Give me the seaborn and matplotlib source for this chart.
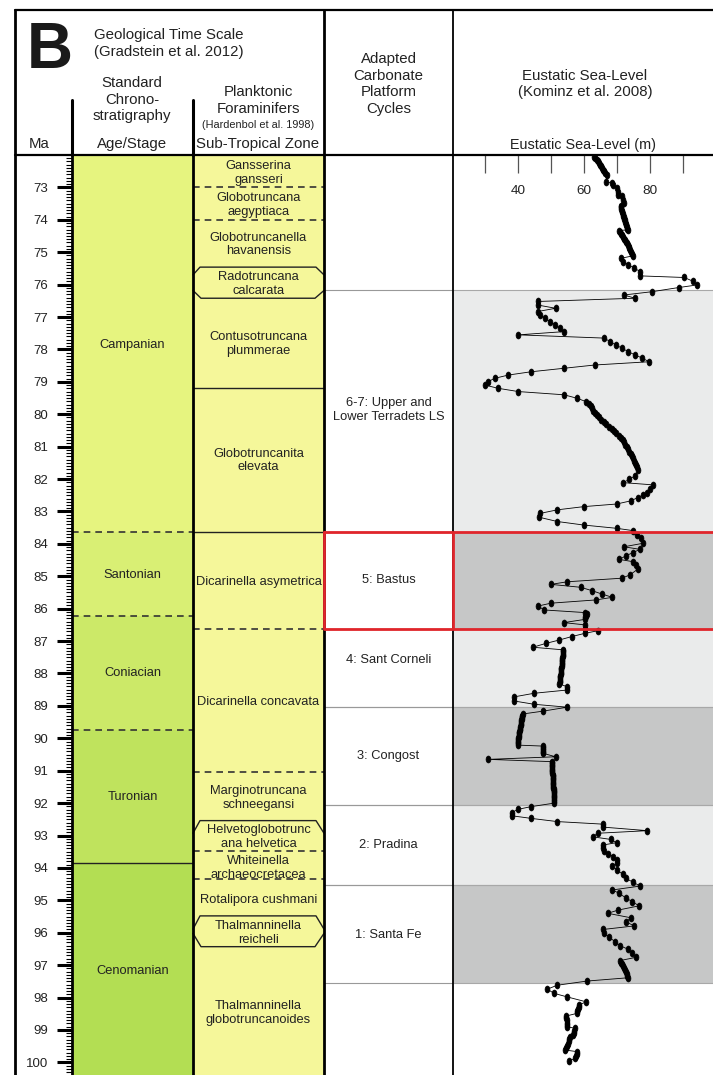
import numpy as np
import pandas as pd
import seaborn as sns
import matplotlib.pyplot as plt

# ---------------- data ----------------
ma_top, ma_base = 72.0, 100.39

stages = ["Campanian", "Santonian", "Coniacian", "Turonian", "Cenomanian"]
stage_base = [83.64, 86.22, 89.73, 93.86, 100.39]
stage_label_ma = [77.86, 84.96, 88.0, 91.8, 97.18]

zones = ["Gansserina\ngansseri", "Globotruncana\naegyptiaca", "Globotruncanella\nhavanensis",
         "Radotruncana\ncalcarata", "Contusotruncana\nplummerae", "Globotruncanita\nelevata",
         "Dicarinella asymetrica", "Dicarinella concavata", "Marginotruncana\nschneegansi",
         "Helvetoglobotrunc\nana helvetica", "Whiteinella\narchaeocretacea", "Rotalipora cushmani",
         "Thalmanninella\nreicheli", "Thalmanninella\nglobotruncanoides"]
zone_label_ma = [72.55, 73.54, 74.76, 75.98, 77.84, 81.43, 85.17, 88.87, 91.83,
                 93.04, 94.0, 94.99, 96.0, 98.47]
zone_dashed = [72.98, 74.0, 86.64, 91.05, 93.47, 94.35]
zone_solid = [79.18, 83.63]
zone_notch_top = [(75.70, 75.46), (92.93, 92.54), (95.89, 95.48)]    # (outer, inner)
zone_notch_base = [(76.18, 76.42), (96.02, 96.43)]

cycles = ["6-7: Upper and\nLower Terradets LS", "5: Bastus", "4: Sant Corneli",
          "3: Congost", "2: Pradina", "1: Santa Fe"]
cycle_top = [76.16, 83.62, 86.62, 89.02, 92.06, 94.52]
cycle_base = [83.62, 86.62, 89.02, 92.06, 94.52, 97.56]
cycle_label_ma = [79.87, 85.11, 87.58, 90.55, 93.3, 96.07]

age_ma = [72.05, 72.10, 72.15, 72.20, 72.25, 72.30, 72.35, 72.40, 72.45, 72.50, 72.55, 72.61,
          72.82, 72.87, 72.92, 73.02, 73.13, 73.23, 73.28, 73.39, 73.49, 73.57,
          73.62, 73.67, 73.72, 73.77, 73.82, 73.87, 73.92, 73.97, 74.02, 74.07, 74.12, 74.17,
          74.22, 74.27, 74.31,
          74.33, 74.38, 74.43, 74.48, 74.53, 74.58, 74.63, 74.68, 74.73, 74.78, 74.83, 74.88,
          74.93, 74.98, 75.04, 75.11,
          75.19, 75.29, 75.39, 75.49, 75.60, 75.73, 75.78, 75.89, 76.01, 76.09, 76.22, 76.32,
          76.42, 76.52, 76.63, 76.73, 76.83, 76.94, 77.04, 77.14, 77.24, 77.35, 77.45, 77.55,
          77.65, 77.76, 77.86, 77.96, 78.07, 78.17, 78.27, 78.38, 78.48, 78.58, 78.69, 78.79,
          78.89, 78.99, 79.10, 79.20, 79.30, 79.40, 79.51,
          79.61, 79.68, 79.75, 79.82, 79.89, 79.96, 80.03, 80.10, 80.17, 80.24, 80.31, 80.38,
          80.45, 80.52, 80.59, 80.66, 80.73, 80.80, 80.87, 80.94, 81.01, 81.08, 81.15, 81.22,
          81.29, 81.36, 81.43, 81.50, 81.57, 81.64, 81.72,
          81.90, 82.01, 82.11, 82.18, 82.31, 82.42, 82.49, 82.57, 82.67, 82.77, 82.85, 82.95,
          83.06, 83.18, 83.31, 83.42, 83.52, 83.59, 83.73, 83.83, 83.98, 84.09, 84.17, 84.27,
          84.37, 84.48, 84.55, 84.65, 84.78, 84.96, 85.06, 85.17, 85.25, 85.34, 85.44, 85.55,
          85.65, 85.73, 85.83, 85.92, 86.04,
          86.12, 86.17, 86.22, 86.27, 86.33,
          86.43, 86.50, 86.64, 86.68, 86.76, 86.86, 86.97, 87.07, 87.19,
          87.27, 87.32, 87.37, 87.42, 87.47, 87.52, 87.57, 87.62, 87.67, 87.72, 87.77, 87.82,
          87.87, 87.92, 87.97, 88.02, 88.07, 88.12, 88.17, 88.22, 88.27, 88.32,
          88.41, 88.51, 88.61, 88.72, 88.85, 88.95, 89.04, 89.16,
          89.25, 89.30, 89.35, 89.40, 89.45, 89.50, 89.55, 89.60, 89.65, 89.70, 89.75, 89.80,
          89.85, 89.90, 89.95, 90.00, 90.05, 90.10, 90.15, 90.21,
          90.24, 90.30, 90.36, 90.42, 90.46, 90.57, 90.65, 90.72,
          90.77, 90.82, 90.87, 90.92, 90.97, 91.02, 91.07, 91.12, 91.17, 91.22, 91.27, 91.32,
          91.37, 91.42, 91.47, 91.52, 91.57, 91.62, 91.67, 91.72, 91.77, 91.82, 91.87, 91.92,
          92.00,
          92.11, 92.19, 92.29, 92.39, 92.47, 92.57, 92.65, 92.74, 92.85, 92.93, 93.04, 93.12,
          93.22, 93.29, 93.40, 93.48, 93.57, 93.65, 93.75, 93.86, 93.94, 94.06, 94.19, 94.32,
          94.44, 94.56, 94.68, 94.78, 94.92, 95.04, 95.17, 95.30, 95.40, 95.54, 95.66, 95.79,
          95.90, 96.02, 96.14, 96.28, 96.40, 96.51, 96.63, 96.76,
          96.86, 96.92, 96.98, 97.04, 97.10, 97.16, 97.22, 97.28, 97.34, 97.39,
          97.49, 97.62, 97.74, 97.87, 97.98, 98.13,
          98.23, 98.29, 98.36, 98.43, 98.49,
          98.57, 98.63, 98.70, 98.77, 98.84, 98.90,
          98.95, 99.02, 99.09, 99.16,
          99.21, 99.28, 99.35, 99.42, 99.49, 99.56, 99.62,
          99.67, 99.74, 99.81, 99.88, 99.95]

sea_level_m = [62.9, 63.3, 63.7, 64.0, 64.3, 64.7, 65.0, 65.4, 65.7, 66.0, 66.4, 66.8,
               66.6, 68.3, 68.8, 69.8, 70.1, 70.3, 71.3, 71.8, 72.0, 71.0,
               71.0, 71.2, 71.3, 71.5, 71.6, 71.8, 71.9, 72.0, 72.2, 72.4, 72.5, 72.7,
               72.8, 73.0, 73.2,
               70.6, 70.9, 71.2, 71.5, 71.8, 72.0, 72.3, 72.6, 72.9, 73.1, 73.4, 73.6,
               73.9, 74.2, 74.5, 74.8,
               71.0, 71.8, 73.3, 75.2, 76.9, 76.9, 90.3, 92.8, 94.2, 88.6, 80.4, 72.0,
               75.4, 45.9, 45.9, 51.3, 45.9, 46.6, 48.1, 49.6, 51.1, 52.6, 53.9, 40.0,
               66.0, 67.8, 69.5, 71.4, 73.3, 75.4, 77.6, 79.6, 63.2, 53.9, 43.8, 37.0,
               32.9, 30.9, 29.9, 33.9, 40.0, 53.9, 57.9,
               60.5, 61.3, 61.9, 62.3, 62.7, 63.2, 63.8, 64.5, 65.2, 65.9, 66.7, 67.5,
               68.3, 69.0, 69.7, 70.4, 71.1, 71.6, 72.0, 72.4, 72.8, 73.2, 73.6, 74.0,
               74.4, 74.8, 75.1, 75.4, 75.8, 76.1, 76.4,
               75.4, 73.6, 71.8, 80.9, 79.9, 79.1, 77.9, 76.2, 74.2, 69.8, 59.9, 51.8,
               46.6, 46.4, 51.8, 59.9, 69.8, 74.7, 75.9, 77.1, 77.9, 72.0, 76.9, 74.7,
               72.6, 70.6, 74.8, 75.7, 76.2, 73.8, 71.3, 54.8, 49.9, 58.9, 62.2, 65.4,
               68.5, 63.5, 49.9, 45.9, 47.9,
               60.2, 60.7, 60.5, 60.3, 60.2,
               53.8, 60.2, 60.2, 64.1, 60.2, 56.2, 52.3, 48.4, 44.4,
               53.6, 53.5, 53.5, 53.4, 53.4, 53.3, 53.3, 53.2, 53.2, 53.1, 53.1, 53.0,
               52.9, 52.9, 52.8, 52.8, 52.7, 52.7, 52.6, 52.5, 52.5, 52.4,
               54.8, 54.8, 44.8, 38.8, 38.8, 44.8, 54.8, 47.6,
               41.3, 41.2, 41.1, 41.0, 40.9, 40.9, 40.8, 40.7, 40.6, 40.5, 40.4, 40.3,
               40.3, 40.2, 40.1, 40.0, 40.0, 39.9, 39.9, 39.8,
               47.4, 47.4, 47.4, 47.4, 47.4, 51.3, 30.9, 50.1,
               50.1, 50.2, 50.2, 50.2, 50.3, 50.3, 50.3, 50.4, 50.4, 50.4, 50.5, 50.5,
               50.5, 50.6, 50.6, 50.6, 50.7, 50.7, 50.7, 50.8, 50.8, 50.8, 50.9, 50.9,
               50.9,
               43.8, 40.0, 38.0, 38.0, 43.8, 51.8, 65.8, 65.6, 79.1, 64.1, 62.5, 68.0,
               69.8, 65.8, 65.6, 65.9, 67.3, 68.8, 70.0, 70.0, 68.5, 69.8, 71.6, 72.5,
               74.8, 76.9, 68.5, 70.5, 72.5, 74.5, 76.6, 70.3, 67.1, 74.2, 72.6, 75.1,
               65.6, 66.0, 67.6, 69.3, 70.8, 73.3, 74.5, 75.6,
               70.8, 71.0, 71.3, 71.6, 71.9, 72.2, 72.5, 72.8, 73.0, 73.2,
               60.9, 51.8, 48.8, 50.8, 54.8, 60.5,
               58.5, 58.3, 58.1, 57.9, 57.7,
               54.5, 54.5, 54.6, 54.7, 54.7, 54.8,
               57.2, 57.0, 56.9, 56.7,
               55.7, 55.5, 55.3, 55.0, 54.7, 54.4, 54.2,
               57.9, 57.7, 57.4, 57.2, 55.5]

sea_ticks = [30, 40, 50, 60, 70, 80, 90]
sea_tick_labels = ["", "40", "", "60", "", "80", ""]

# ---------------- styles ----------------
stage_colors = ["#e6f47f", "#d9ef74", "#cce968", "#bfe35d", "#b3de53"]
zone_color = "#f5f79a"
band_colors = ["#eaebeb", "#c6c7c7"]
red = "#e0252b"
txt = "#222222"


def main():
    sns.set_style("white")
    plt.rcParams["font.family"] = ["Liberation Sans", "DejaVu Sans"]

    W, H = 713, 1075
    fig = plt.figure(figsize=(W / 100, H / 100), dpi=100)

    def box(x0, x1, ytop=155):
        return [x0 / W, 0, (x1 - x0) / W, (H - ytop) / H]

    # ---- sea level panel ----
    ax_sl = fig.add_axes(box(453, 713))
    ax_sl.set_zorder(1)
    for i, (t, b) in enumerate(zip(cycle_top, cycle_base)):
        ax_sl.axhspan(t, b, color=band_colors[i % 2], lw=0)
        for y in (t, b):
            ax_sl.axhline(y, color="#a8a8a8", lw=0.8)
    df = pd.DataFrame({"age": age_ma, "sea_level": sea_level_m})
    t = np.linspace(0, 2 * np.pi, 24)
    ell = list(zip(0.7 * np.cos(t), np.sin(t)))
    sns.lineplot(data=df, x="sea_level", y="age", sort=False, estimator=None, ax=ax_sl,
                 color="black", lw=0.6, marker=ell, markersize=5,
                 markeredgecolor="black", markerfacecolor="black", markeredgewidth=0.5)
    ax_sl.axhline(cycle_top[1], color=red, lw=2, zorder=5)
    ax_sl.axhline(cycle_base[1], color=red, lw=2, zorder=5)
    ax_sl.set_xlim(20.2, 99.0)
    ax_sl.set_ylim(ma_base, ma_top)
    ax_sl.set_xlabel("")
    ax_sl.set_ylabel("")
    ax_sl.set_yticks([])
    ax_sl.set_xticks(sea_ticks)
    ax_sl.set_xticklabels(sea_tick_labels)
    ax_sl.tick_params(axis="x", top=True, bottom=False, labeltop=True, labelbottom=False,
                      direction="in", length=13, width=0.9, color="#555555",
                      pad=-30.6, labelsize=9.7, labelcolor=txt)
    for s in ax_sl.spines.values():
        s.set_visible(False)

    # ---- stratigraphic columns ----
    ax = fig.add_axes(box(72, 453))
    ax.set_zorder(2)
    ax.patch.set_alpha(0)
    ax.set_xlim(72, 453)
    ax.set_ylim(ma_base, ma_top)

    top = ma_top
    for name, base, ly, c in zip(stages, stage_base, stage_label_ma, stage_colors):
        ax.fill_between([72, 193], top, base, color=c, lw=0)
        ax.text(132.5, ly, name, ha="center", va="center", fontsize=9.3, color=txt)
        top = base
    for b in stage_base[:3]:
        ax.plot([72, 193], [b, b], color="#333333", lw=1.2, ls=(0, (4, 3)))
    ax.plot([72, 193], [stage_base[3]] * 2, color="#222222", lw=1.0)

    ax.fill_between([193, 324], ma_top, ma_base, color=zone_color, lw=0)
    for b in zone_dashed:
        ax.plot([193, 324], [b, b], color="#333333", lw=1.2, ls=(0, (4, 3)))
    for b in zone_solid:
        ax.plot([193, 324], [b, b], color="#222222", lw=1.0)
    for outer, inner in zone_notch_top:
        ax.plot([193, 200, 316, 324], [outer, inner, inner, outer], color="#222222", lw=1.0)
    for outer, inner in zone_notch_base:
        ax.plot([193, 201, 315, 324], [outer, inner, inner, outer], color="#222222", lw=1.0)
    for name, ly in zip(zones, zone_label_ma):
        ax.text(258.5, ly, name, ha="center", va="center", fontsize=9.3, color=txt,
                linespacing=1.2)

    for name, t0, b0, ly in zip(cycles, cycle_top, cycle_base, cycle_label_ma):
        ax.plot([324, 453], [t0, t0], color="#999999", lw=0.8)
        ax.plot([324, 453], [b0, b0], color="#999999", lw=0.8)
        ax.text(388.5, ly, name, ha="center", va="center", fontsize=9.3, color=txt,
                linespacing=1.2)

    for x, lw in [(72, 2.0), (193, 2.0), (324, 2.0), (453, 1.3)]:
        ax.plot([x, x], [ma_top, ma_base], color="black", lw=lw, clip_on=False)
    ax.plot([324, 453, 453, 324, 324],
            [cycle_top[1], cycle_top[1], cycle_base[1], cycle_base[1], cycle_top[1]],
            color=red, lw=2, clip_on=False, zorder=6)

    ax.set_xticks([])
    ax.set_yticks(range(73, 101))
    ax.set_yticks(np.arange(72.1, 100.35, 0.1), minor=True)
    ax.tick_params(axis="y", which="both", left=True, right=False)
    ax.tick_params(axis="y", which="major", direction="out", length=10.8, width=2.2,
                   color="black", pad=6.5, labelsize=9.5, labelcolor=txt)
    ax.tick_params(axis="y", which="minor", direction="out", length=4, width=0.8,
                   color="black")
    for s in ax.spines.values():
        s.set_visible(False)

    # ---- header / frame ----
    ov = fig.add_axes([0, 0, 1, 1])
    ov.set_zorder(3)
    ov.set_xlim(0, W)
    ov.set_ylim(H, 0)
    ov.axis("off")
    ov.plot([15, 713], [10, 10], color="black", lw=1.6)
    ov.plot([15, 713], [155, 155], color="black", lw=1.6)
    ov.plot([15, 15], [10, H], color="black", lw=2.0)
    ov.plot([72, 72], [100, 155], color="black", lw=2.2)
    ov.plot([193, 193], [100, 155], color="black", lw=2.2)
    ov.plot([324, 324], [10, 155], color="black", lw=2.0)
    ov.plot([453, 453], [10, 155], color="black", lw=1.3)

    hs = 10.8
    ov.text(50, 51, "B", ha="center", va="center", fontsize=46, fontweight="bold",
            color="#1a1a1a")
    ov.text(94, 43.5, "Geological Time Scale\n(Gradstein et al. 2012)", ha="left",
            va="center", fontsize=hs, color=txt, linespacing=1.2)
    ov.text(132, 99.5, "Standard\nChrono-\nstratigraphy", ha="center", va="center",
            fontsize=hs, color=txt, linespacing=1.2)
    ov.text(258, 100.5, "Planktonic\nForaminifers", ha="center", va="center",
            fontsize=hs, color=txt, linespacing=1.2)
    ov.text(258, 125, "(Hardenbol et al. 1998)", ha="center", va="center",
            fontsize=7.8, color=txt)
    ov.text(39, 144, "Ma", ha="center", va="center", fontsize=hs, color=txt)
    ov.text(132, 144, "Age/Stage", ha="center", va="center", fontsize=hs, color=txt)
    ov.text(258, 144, "Sub-Tropical Zone", ha="center", va="center", fontsize=hs, color=txt)
    ov.text(388.5, 84, "Adapted\nCarbonate\nPlatform\nCycles", ha="center", va="center",
            fontsize=hs, color=txt, linespacing=1.25)
    ov.text(585, 84, "Eustatic Sea-Level\n(Kominz et al. 2008)", ha="center",
            va="center", fontsize=hs, color=txt, linespacing=1.2)
    ov.text(583, 145, "Eustatic Sea-Level (m)", ha="center", va="center",
            fontsize=10.4, color=txt)

    fig.savefig("out.png", dpi=100)


if __name__ == "__main__":
    main()
